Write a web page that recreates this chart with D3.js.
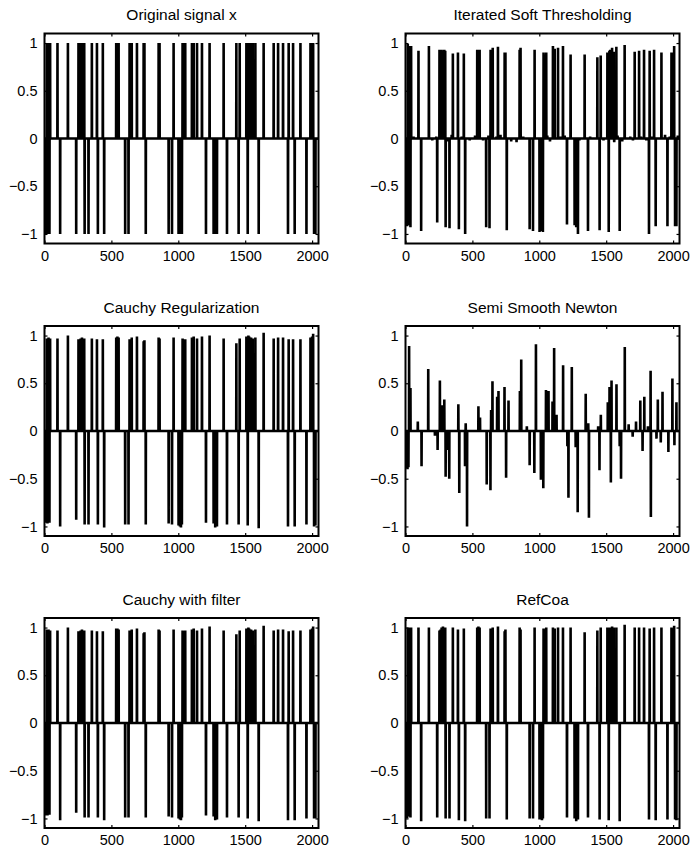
<!DOCTYPE html>
<html>
<head>
<meta charset="utf-8">
<script src="https://cdn.jsdelivr.net/npm/d3@7"></script>
<style>
  body { margin: 0; background: #fff; }
  text { font-family: "Liberation Sans", Arial, Helvetica, sans-serif; fill: #000; }
</style>
</head>
<body>
<svg id="fig" width="691" height="852"></svg>
<script>
// support of the sparse signal (sample index, 1..2048)
const spikeIdx = [12,17,22,30,37,42, 97,117,175,237, 254,262,270,280,290,297, 300,329,354,392,399,
  436,446,536,545,554, 603,628,636,652,691, 741,747,757,853,860, 928,953,965, 1002,1012,1020,1027,
  1032,1040,1052,1102,1115, 1140,1177,1207,1234, 1264,1276,1289, 1339,1364,1434,1451,1459,
  1509,1519,1524,1530,1544, 1556,1576,1601,1638, 1713,1746,1783,1820,1825, 1858,1870,1913,1958,
  1988,2000,2008,2015,2025];

const original = [-1,1,-1,1,-1,1, 1,-1,1,-1, 1,1,1,1,1,1, -1,-1,1,1,-1, 1,-1,1,1,1, -1,-1,1,1,1,
  1,1,-1,1,1, -1,-1,1, -1,-1,-1,-1, 1,1,1,1,1, 1,1,-1,1, -1,-1,-1, 1,-1,1,-1,1, 1,-1,1,1,1,
  1,1,-1,1, 1,1,1,-1,1, 1,-1,1,-1, 1,1,1,-1,-1];

const ist = [-0.92,0.99,-0.91,0.97,-0.93,0.97, 0.92,-0.97,0.97,-0.88, 0.93,0.92,0.93,0.92,0.93,0.92,
  -0.93,-0.94,0.89,0.9,-0.95, 0.89,-1.0,0.93,0.92,0.93, -0.93,-0.94,0.93,0.95,0.96, 0.9,0.9,-0.96,0.93,0.95,
  -0.95,-0.97,0.93, -0.98,-0.96,-0.97,-0.98, 0.9,0.88,0.9,0.97,0.94, 0.95,0.97,-0.9,0.88,
  -0.91,-0.93,-1.0, 0.88,-0.97,0.85,-0.96,0.87, 0.9,-0.98,0.92,0.93,0.95, 0.91,0.96,-0.97,0.98,
  0.91,0.92,0.93,-1.0,0.92, 0.93,-0.92,0.9,-0.92, 0.9,0.9,0.97,-0.92,-0.92];

// small residual wiggles of the soft thresholding around zero
const istNoiseIdx = [60,150,200,230,320,345,420,480,520,580,620,680,710,790,830,880,1060,1080,
  1160,1190,1300,1380,1420,1480,1560,1585,1620,1680,1700,1760,1800,1840,1940,1975,2035];
const istNoiseVal = [0.02,0.01,-0.02,0.02,-0.03,0.04,0.02,-0.02,0.03,-0.02,0.03,0.02,0.04,-0.03,-0.04,0.02,
  0.03,-0.03,0.02,0.03,-0.02,0.02,0.01,-0.02,-0.04,0.03,-0.03,0.02,-0.02,0.02,-0.02,0.02,0.04,0.02,0.03];

const cauchy = [-0.96,0.97,-0.97,0.98,-0.96,0.97, 0.97,-1.0,1.0,-0.93, 0.96,0.95,0.97,0.98,0.96,0.97,
  -0.98,-0.98,0.97,0.96,-0.98, 0.96,-1.01,0.98,0.99,0.98, -0.98,-0.98,0.96,0.98,0.99, 0.94,0.95,-0.98,0.98,0.97,
  -0.97,-0.98,0.98, -0.99,-1.0,-1.01,-0.98, 0.97,0.96,0.96,0.98,0.99, 0.97,0.99,-0.96,1.0,
  -0.97,-1.01,-1.0, 0.97,-0.98,0.92,-0.98,0.97, 0.99,-0.99,1.0,0.99,0.98, 0.97,0.98,-1.02,1.03,
  0.97,0.98,0.98,-1.0,0.96, 0.96,-1.0,0.96,-0.98, 0.98,0.99,1.02,-1.0,-0.99];

const cauchyFilter = [-0.97,0.98,-0.97,0.98,-0.96,0.97, 0.97,-1.02,1.0,-0.94, 0.96,0.96,0.97,0.98,0.97,0.97,
  -0.99,-0.99,0.97,0.96,-0.99, 0.96,-1.02,0.99,0.99,0.98, -0.99,-0.99,0.97,0.98,0.99, 0.94,0.95,-0.99,0.98,0.97,
  -0.98,-0.99,0.98, -1.0,-1.01,-1.02,-0.99, 0.97,0.96,0.97,0.98,0.99, 0.97,0.99,-0.97,1.01,
  -0.98,-1.02,-1.01, 0.97,-0.99,0.93,-0.99,0.97, 0.99,-1.0,1.0,0.99,0.98, 0.97,0.98,-1.03,1.02,
  0.97,0.98,0.98,-1.02,0.96, 0.97,-1.02,0.97,-1.0, 0.98,0.99,1.01,-1.0,-1.0];

const refCoa = [-1.0,1.0,-0.98,1.0,-0.99,1.0, 1.0,-1.03,1.0,-0.99, 0.97,0.98,1.0,1.01,0.99,1.0,
  -1.0,-1.0,1.0,0.98,-1.02, 0.99,-1.03,1.0,1.01,1.0, -1.0,-1.0,0.99,1.0,1.01, 0.96,0.98,-1.01,1.0,0.98,
  -1.0,-1.0,1.0, -1.01,-1.0,-1.02,-1.0, 0.99,0.98,1.0,1.0,0.99, 1.0,1.0,-0.99,1.0,
  -1.0,-1.03,-1.01, 0.95,-0.99,0.97,-1.01,1.0, 1.0,-1.02,1.0,1.0,1.01, 1.0,1.0,-1.03,1.03,
  1.0,1.0,1.0,-1.01,0.99, 1.0,-1.02,1.0,-1.01, 1.0,0.99,1.02,-1.01,-1.02];

// semi smooth Newton recovers a different, damped support
const ssnIdx = [7,15,22,27,37,92,120,170,220,240,257,275,290,300,315,327,395,402,445,450,460,
  545,557,607,635,640,650,685,695,740,752,770,855,865,907,928,963,975,1012,1030,1050,1069,1099,
  1111,1129,1178,1210,1218,1243,1272,1287,1347,1366,1371,1440,1450,1460,1512,1525,1535,1540,1577,
  1601,1611,1639,1668,1698,1723,1755,1772,1785,1812,1832,1834,1876,1886,1908,1921,1965,1995,2010,2025];
const ssnVal = [-0.39,-0.4,-0.38,0.89,0.45,0.1,-0.37,0.65,-0.05,-0.2,0.53,0.27,0.33,-0.48,-0.2,-0.5,
  0.28,-0.65,-0.37,0.08,-1.0, 0.26,0.14,-0.56,-0.62,0.22,0.52,0.36,0.42,0.46,-0.49,0.32,0.42,0.75,
  0.05,-0.36,-0.44,0.91,-0.51,-0.6,0.43,0.42,0.31, 0.87,0.17,0.69,-0.16,-0.7,0.67,-0.17,-0.85,0.39,
  0.08,-0.91,0.05,-0.41,0.17,0.3,0.46,-0.54,0.53,0.49, -0.16,-0.5,0.88,0.07,-0.06,0.1,0.32,-0.21,
  0.36,0.05,0.63,-0.9,-0.08,0.33,-0.12,0.41,-0.22,0.55,-0.15,0.3];

const titles = ["Original signal x", "Iterated Soft Thresholding", "Cauchy Regularization",
  "Semi Smooth Newton", "Cauchy with filter", "RefCoa"];
const xTicks = [0, 500, 1000, 1500, 2000];
const yTicks = [-1, -0.5, 0, 0.5, 1];
const N = 2048;

const panels = [
  { idx: spikeIdx, val: original },
  { idx: spikeIdx.concat(istNoiseIdx), val: ist.concat(istNoiseVal) },
  { idx: spikeIdx, val: cauchy },
  { idx: ssnIdx, val: ssnVal },
  { idx: spikeIdx, val: cauchyFilter },
  { idx: spikeIdx, val: refCoa }
];

const colLeft = [44.5, 405.5];
const rowTop = [33.5, 326, 618];
const width = 274;
const height = 210;
const fmt = d => (d < 0 ? "\u2212" : "") + Math.abs(d);

const svg = d3.select("#fig");

// build the stem-like polyline of a sparse signal: zero everywhere except the listed samples
function signalPoints(idx, val) {
  const pts = idx.map((p, i) => [p, val[i]]).sort((a, b) => a[0] - b[0]);
  const out = [[1, 0]];
  pts.forEach(([p, v]) => {
    out.push([p - 1, 0], [p, v], [p + 1, 0]);
  });
  out.push([N, 0]);
  return out;
}

panels.forEach((panel, k) => {
  const g = svg.append("g")
    .attr("transform", "translate(" + colLeft[k % 2] + "," + rowTop[Math.floor(k / 2)] + ")");

  const x = d3.scaleLinear().domain([0, N]).range([0, width]);
  const y = d3.scaleLinear().domain([-1.1, 1.1]).range([height, 0]);

  // signal
  const line = d3.line().x(d => x(d[0])).y(d => y(d[1]));
  g.append("path")
    .datum(signalPoints(panel.idx, panel.val))
    .attr("d", line)
    .attr("fill", "none")
    .attr("stroke", "#000")
    .attr("stroke-width", 2.6);

  // Add X axis (ticks inside, labels below)
  g.append("g")
    .attr("transform", "translate(0," + height + ")")
    .call(d3.axisBottom(x).tickValues(xTicks).tickSize(-3).tickPadding(7).tickFormat(fmt));
  g.append("g")
    .call(d3.axisTop(x).tickValues(xTicks).tickSize(-3).tickFormat(""));

  // Add Y axis
  g.append("g")
    .call(d3.axisLeft(y).tickValues(yTicks).tickSize(-3).tickPadding(7).tickFormat(fmt));
  g.append("g")
    .attr("transform", "translate(" + width + ",0)")
    .call(d3.axisRight(y).tickValues(yTicks).tickSize(-3).tickFormat(""));

  g.selectAll(".domain").remove();
  g.selectAll(".tick line").attr("stroke", "#000").attr("stroke-width", 1.2);
  g.selectAll(".tick text")
    .attr("font-size", 14.5)
    .attr("font-family", "'Liberation Sans', Arial, sans-serif");

  // box
  g.append("rect")
    .attr("width", width)
    .attr("height", height)
    .attr("fill", "none")
    .attr("stroke", "#000")
    .attr("stroke-width", 2);

  // title
  g.append("text")
    .attr("x", width / 2)
    .attr("y", -13.5)
    .attr("text-anchor", "middle")
    .attr("font-size", 15.5)
    .text(titles[k]);
});
</script>
</body>
</html>
